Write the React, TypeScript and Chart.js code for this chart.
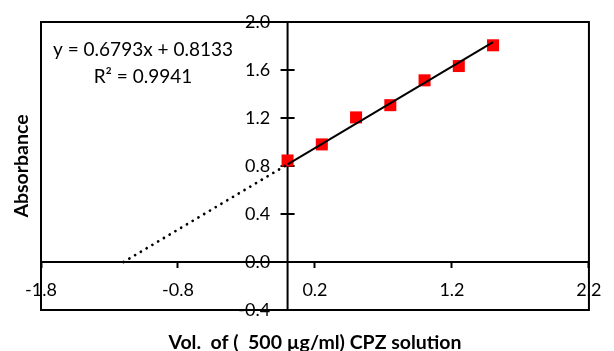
import React, { useEffect, useRef } from "react";
import { Chart, registerables } from "chart.js";

Chart.register(...registerables);

// Calibration data: added volume of standard vs. measured absorbance
const volumes = [0, 0.25, 0.5, 0.75, 1.0, 1.25, 1.5];
const absorbances = [0.846, 0.98, 1.205, 1.307, 1.514, 1.633, 1.806];

// Axis ticks
const xTickValues = [-1.8, -0.8, 0.2, 1.2, 2.2];
const yTickValues = [-0.4, 0.0, 0.4, 0.8, 1.2, 1.6, 2.0];

// Linear trendline (standard-addition fit)
const slope = 0.6793;
const intercept = 0.8133;
const rSquared = 0.9941;

const xTitle = "Vol.  of (  500 µg/ml) CPZ solution";
const yTitle = "Absorbance";

const FONT = "Lato";

const xIntercept = -intercept / slope;
const lastVolume = volumes[volumes.length - 1];
const fitLine = [
  { x: 0, y: intercept },
  { x: lastVolume, y: slope * lastVolume + intercept },
];
const extrapolation = [
  { x: xIntercept, y: 0 },
  { x: 0, y: intercept },
];

// Plot frame, both zero axes with crossing y tick marks, and the fit equation
const framePlugin = {
  id: "frame",
  beforeDatasetsDraw(chart: any) {
    const { ctx, chartArea: a, scales } = chart;
    const x0 = scales.x.getPixelForValue(0);
    const y0 = scales.y.getPixelForValue(0);
    ctx.save();
    ctx.strokeStyle = "#000";
    ctx.lineWidth = 2;
    ctx.beginPath();
    for (const v of yTickValues) {
      const y = scales.y.getPixelForValue(v);
      ctx.moveTo(x0 - 7, y);
      ctx.lineTo(x0 + 7, y);
    }
    ctx.moveTo(a.left, y0);
    ctx.lineTo(a.right, y0);
    ctx.moveTo(x0, a.top);
    ctx.lineTo(x0, a.bottom);
    ctx.stroke();
    ctx.strokeRect(a.left, a.top, a.right - a.left, a.bottom - a.top);

    ctx.fillStyle = "#000";
    ctx.font = `19px ${FONT}`;
    ctx.textAlign = "center";
    ctx.textBaseline = "alphabetic";
    const cx = a.left + 102;
    ctx.fillText(`y = ${slope}x + ${intercept}`, cx, a.top + 34);
    ctx.fillText(`R² = ${rSquared}`, cx, a.top + 61);
    ctx.restore();
  },
};

export default function App() {
  const canvasRef = useRef<HTMLCanvasElement>(null);

  useEffect(() => {
    if (!canvasRef.current) return;
    const tickFont = { family: FONT, size: 18 };
    const titleFont = { family: FONT, size: 19.5, weight: "bold" as const };
    const chart = new Chart(canvasRef.current, {
      type: "scatter",
      data: {
        datasets: [
          {
            data: fitLine,
            showLine: true,
            borderColor: "#000",
            borderWidth: 2,
            pointRadius: 0,
          },
          {
            data: extrapolation,
            showLine: true,
            borderColor: "#000",
            borderWidth: 2.7,
            borderDash: [0.1, 6.6],
            borderCapStyle: "round",
            pointRadius: 0,
          },
          {
            data: volumes.map((v, i) => ({ x: v, y: absorbances[i] })),
            pointStyle: "rect",
            pointRadius: 8.5,
            backgroundColor: "#ff0000",
            borderColor: "#ff0000",
            borderWidth: 0,
          },
        ],
      },
      options: {
        animation: false,
        responsive: false,
        devicePixelRatio: 1,
        layout: { padding: { left: 11.75, right: 16, top: 22, bottom: 2 } },
        plugins: {
          legend: { display: false },
          tooltip: { enabled: false },
          title: {
            display: true,
            text: yTitle,
            position: "left",
            fullSize: false,
            color: "#000",
            font: { ...titleFont, lineHeight: 1.0 },
            padding: { top: 0, bottom: 9.75 },
          },
          subtitle: {
            display: true,
            text: xTitle,
            position: "bottom",
            fullSize: false,
            color: "#000",
            font: { ...titleFont, lineHeight: 0.6 },
            padding: { top: 27.3, bottom: 0 },
          },
        },
        scales: {
          x: {
            type: "linear",
            min: -1.8,
            max: 2.2,
            position: { y: 0 },
            afterBuildTicks: (scale: any) => {
              scale.ticks = xTickValues.map((value) => ({ value }));
            },
            grid: {
              drawOnChartArea: false,
              drawTicks: true,
              tickLength: 5,
              tickWidth: 2,
              color: "#000",
            },
            border: { display: true, color: "#000", width: 2 },
            ticks: {
              color: "#000",
              font: tickFont,
              padding: 12.5,
              maxRotation: 0,
              autoSkip: false,
              callback: (v: any) => Number(v).toFixed(1),
            },
          },
          y: {
            type: "linear",
            min: -0.4,
            max: 2.0,
            // labels sit a little left of the zero axis, which the frame plugin draws
            position: { x: -0.127 },
            afterBuildTicks: (scale: any) => {
              scale.ticks = yTickValues.map((value) => ({ value }));
            },
            grid: { display: false },
            border: { display: false },
            ticks: {
              color: "#000",
              font: tickFont,
              padding: 0,
              autoSkip: false,
              callback: (v: any) => Number(v).toFixed(1),
            },
          },
        },
      },
      plugins: [framePlugin],
    });
    return () => chart.destroy();
  }, []);

  return (
    <div style={{ position: "absolute", left: 0, top: 0, width: 614, height: 351, background: "#fff" }}>
      <canvas ref={canvasRef} width={614} height={351} />
    </div>
  );
}
